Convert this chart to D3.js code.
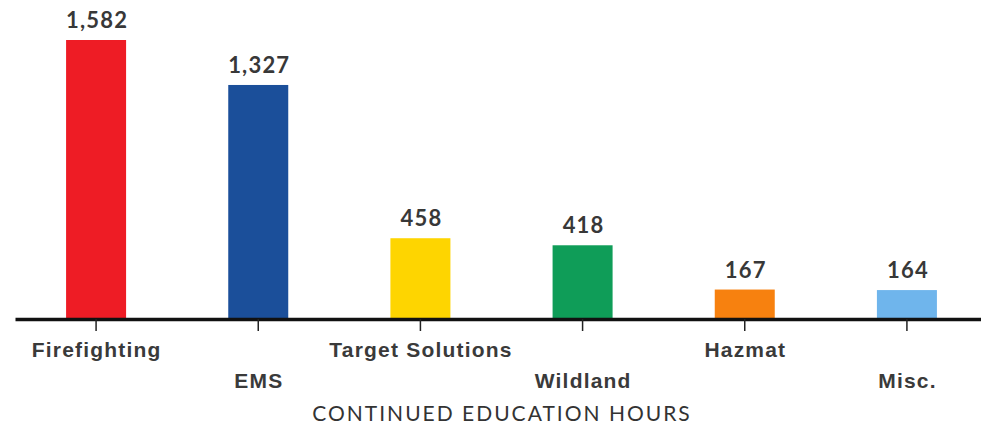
<!DOCTYPE html>
<html>
<head>
<meta charset="utf-8">
<script src="https://cdn.jsdelivr.net/npm/d3@7"></script>
<style>
    body { margin: 0; background: #fff; }
    svg { display: block; font-family: Lato, "Noto Sans", sans-serif; }
</style>
</head>
<body>
<div id="hoursChart"></div>
<script>
var categories = ["Firefighting", "EMS", "Target Solutions", "Wildland", "Hazmat", "Misc."];
var hours = [1582, 1327, 458, 418, 167, 164];
var barColors = ["#ee1c25", "#1b4f9a", "#fed500", "#0f9d58", "#f7810f", "#6fb5ec"];
var axisTitle = "CONTINUED EDUCATION HOURS";

var width = 981, height = 428;
var baseY = 319;

var svg = d3.select("#hoursChart")
    .append("svg")
    .attr("width", width)
    .attr("height", height);

var x = d3.scaleBand()
    .domain(categories)
    .range([15, 988])
    .paddingInner(0.63)
    .paddingOuter(0.315);

var y = d3.scaleLinear()
    .domain([0, d3.max(hours)])
    .range([baseY, 40]);

var data = categories.map(function (c, i) {
    return { name: c, value: hours[i], color: barColors[i] };
});

// bars
svg.selectAll("rect.bar")
    .data(data)
    .enter()
    .append("rect")
    .attr("class", "bar")
    .attr("x", function (d) { return x(d.name) })
    .attr("y", function (d) { return y(d.value) })
    .attr("width", x.bandwidth())
    .attr("height", function (d) { return baseY - y(d.value) })
    .attr("fill", function (d) { return d.color });

// value labels
svg.selectAll("text.val")
    .data(data)
    .enter()
    .append("text")
    .attr("class", "val")
    .attr("x", function (d) { return x(d.name) + x.bandwidth() / 2 + 1 })
    .attr("y", function (d) { return y(d.value) - 12 })
    .attr("text-anchor", "middle")
    .style("font-size", "22px")
    .style("font-weight", 700)
    .style("letter-spacing", "1.2px")
    .style("fill", "#383838")
    .text(function (d) { return d3.format(",")(d.value) });

// axis
var axis = svg.append("g")
    .attr("transform", "translate(0," + baseY + ")")
    .call(d3.axisBottom(x).tickSize(12).tickSizeOuter(0));

axis.select(".domain")
    .attr("stroke", "#111")
    .attr("stroke-width", 3.5);

axis.selectAll(".tick line")
    .attr("stroke", "#222")
    .attr("stroke-width", 1.5);

// staggered tick labels
axis.selectAll(".tick text")
    .attr("x", 0.6)
    .attr("y", function (d, i) { return i % 2 ? 54 : 23 })
    .style("font-size", "21px")
    .style("font-weight", 700)
    .style("letter-spacing", "1.2px")
    .style("fill", "#3a3a3a");

svg.append("text")
    .attr("x", 502)
    .attr("y", 421)
    .attr("text-anchor", "middle")
    .style("font-size", "21px")
    .style("letter-spacing", "2px")
    .style("fill", "#333")
    .text(axisTitle);
</script>
</body>
</html>
